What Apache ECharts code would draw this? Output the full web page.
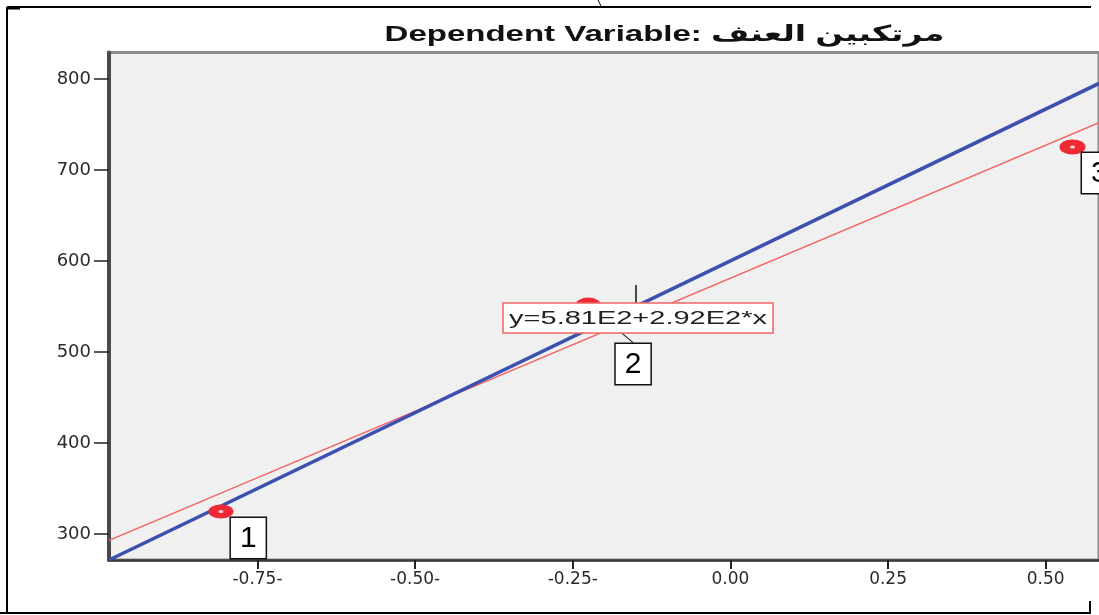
<!DOCTYPE html>
<html><head><meta charset="utf-8">
<script src="https://cdn.jsdelivr.net/npm/echarts@6/dist/echarts.min.js"></script>
<style>html,body{margin:0;padding:0;background:#fff}#c{width:1099px;height:615px}</style>
</head><body><div id="c"></div>
<script>
// ---- data ----
const titleText = 'Dependent Variable: مرتكبين العنف';
const pointX = [-0.808, -0.2255, 0.5425];
const pointY = [324.7, 552, 725.3];
const pointLabels = ['1', '2', '3'];
const fitX = [-0.9855, 0.5845];          // red fit line end points (x)
const fitY = [293, 752];                 // red fit line end points (y)
const refX = [-0.9855, 0.5845];          // blue line end points (x)
const refY = [271.4, 795];               // blue line end points (y)
const equationText = 'y=5.81E2+2.92E2*x';
const xRange = [-0.9855, 0.5845];
const yRange = [271.4, 829];
const xTickValues = [-0.75, -0.5, -0.25, 0, 0.25, 0.5];
const xTickLabels = ['-0.75-', '-0.50-', '-0.25-', '0.00', '0.25', '0.50'];
const yTickValues = [300, 400, 500, 600, 700, 800];
const yTickLabels = ['300', '400', '500', '600', '700', '800'];

const chart = echarts.init(document.getElementById('c'), null, {renderer: 'canvas'});

const pts = pointX.map((x, i) => ({
  value: [x, pointY[i]],
  symbolSize: i === 2 ? [26, 15] : [25, 14],
  labelLine: {show: i === 1}
}));

const option = {
  animation: false,
  backgroundColor: '#ffffff',
  grid: {
    left: 109, right: -5, top: 52.5, bottom: 55,
    show: true, backgroundColor: '#f0f0f0', borderColor: '#8c8c8c', borderWidth: 3
  },
  xAxis: {
    type: 'value', min: xRange[0], max: xRange[1],
    axisLine: {show: true, onZero: false, lineStyle: {color: '#3a3a3a', width: 2.5}},
    axisTick: {show: true, length: 9, customValues: xTickValues, lineStyle: {color: '#222', width: 2}},
    axisLabel: {
      customValues: xTickValues, margin: 11, color: '#2a2a2a',
      fontFamily: 'DejaVu Sans', fontSize: 17,
      formatter: v => { const i = xTickValues.findIndex(t => Math.abs(t - v) < 1e-6); return i >= 0 ? xTickLabels[i] : ''; }
    },
    splitLine: {show: false}
  },
  yAxis: {
    type: 'value', min: yRange[0], max: yRange[1],
    axisLine: {show: true, onZero: false, lineStyle: {color: '#4a4a4a', width: 4}},
    axisTick: {show: true, length: 15, customValues: yTickValues, lineStyle: {color: '#222', width: 1.5}},
    axisLabel: {
      customValues: yTickValues, margin: 18, color: '#2a2a2a',
      fontFamily: 'DejaVu Sans', fontSize: 18,
      formatter: v => { const i = yTickValues.findIndex(t => Math.abs(t - v) < 1e-6); return i >= 0 ? yTickLabels[i] : ''; }
    },
    splitLine: {show: false}
  },
  series: [
    {
      name: 'fit', type: 'line', z: 3, silent: true, showSymbol: false,
      data: fitX.map((x, i) => [x, fitY[i]]),
      lineStyle: {color: '#f26464', width: 1.5}
    },
    {
      name: 'ref', type: 'line', z: 4, silent: true, showSymbol: false,
      data: refX.map((x, i) => [x, refY[i]]),
      lineStyle: {color: '#3c50b0', width: 3.5}
    },
    {
      name: 'points', type: 'scatter', z: 6, symbol: 'circle',
      data: pts,
      itemStyle: {color: '#ee2a35', opacity: 1},
      label: {
        show: true, position: [22.5, 13.5],
        formatter: p => pointLabels[p.dataIndex],
        fontFamily: 'Liberation Sans', fontSize: 30, color: '#000',
        backgroundColor: '#ffffff', borderColor: '#111', borderWidth: 1.5,
        padding: [5, 9, 3, 9], lineHeight: 32
      },
      labelLayout: p => p.dataIndex === 1 ? {dx: 17.5, dy: 33} : {},
      labelLine: {show: false, lineStyle: {color: '#333', width: 1.2}}
    },
    {
      name: 'centers', type: 'scatter', z: 7, silent: true, symbol: 'circle', symbolSize: [5, 3],
      data: pointX.map((x, i) => [x, pointY[i]]),
      itemStyle: {color: '#ffffff'}
    }
  ],
  graphic: [
    {type: 'text', x: 664.5, y: 35, scaleX: 1.5, z: 100,
     style: {text: titleText, font: 'bold 22px "Liberation Sans", "DejaVu Sans"', fill: '#111', align: 'center', verticalAlign: 'middle'}},
    {type: 'line', z: 100, shape: {x1: 636, y1: 285, x2: 636, y2: 304}, style: {stroke: '#111', lineWidth: 1.5}},
    {type: 'rect', z: 100, x: 503, y: 303, shape: {x: 0, y: 0, width: 270, height: 30},
     style: {fill: '#ffffff', stroke: '#f06464', lineWidth: 1.5}},
    {type: 'text', z: 101, x: 638, y: 319, scaleX: 1.61,
     style: {text: equationText, font: '18px "Liberation Sans"', fill: '#222', align: 'center', verticalAlign: 'middle'}},
    // outer frame pieces
    {type: 'line', z: 100, shape: {x1: 7, y1: 7, x2: 1091, y2: 7}, style: {stroke: '#000', lineWidth: 2}},
    {type: 'line', z: 100, shape: {x1: 7, y1: 8, x2: 20, y2: 8}, style: {stroke: '#000', lineWidth: 3}},
    {type: 'line', z: 100, shape: {x1: 7, y1: 7, x2: 7, y2: 613}, style: {stroke: '#000', lineWidth: 2}},
    {type: 'line', z: 100, shape: {x1: 0, y1: 613, x2: 1091, y2: 613}, style: {stroke: '#000', lineWidth: 2}},
    {type: 'line', z: 100, shape: {x1: 1090, y1: 601, x2: 1090, y2: 613}, style: {stroke: '#000', lineWidth: 2}},
    {type: 'line', z: 100, shape: {x1: 598, y1: 0, x2: 601, y2: 6}, style: {stroke: '#000', lineWidth: 1}}
  ]
};
chart.setOption(option);
</script></body></html>
